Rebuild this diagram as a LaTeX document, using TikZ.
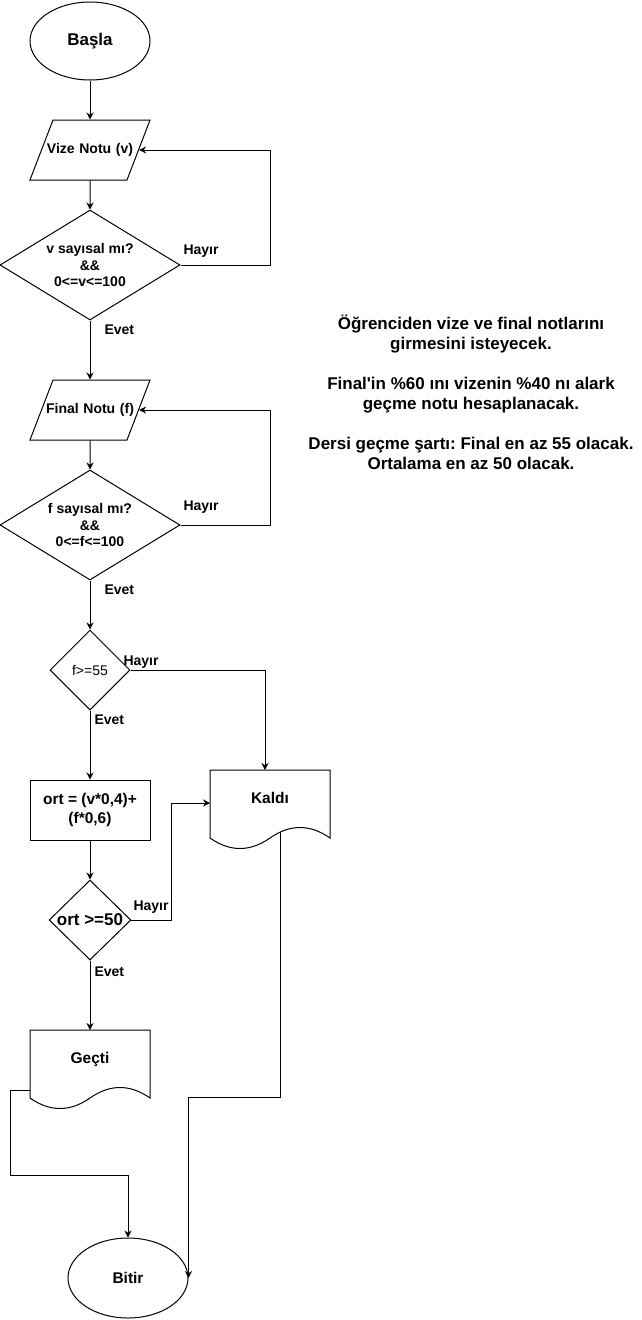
\documentclass[tikz,border=0pt]{standalone}
\usepackage{fontspec}
\setmainfont{Liberation Sans}[Ligatures=TeXOff]
\usetikzlibrary{shapes.geometric,arrows.meta}
\frenchspacing

\newcommand{\kucuk}{\bfseries\fontsize{14}{16.5}\selectfont}
\newcommand{\orta}{\bfseries\fontsize{15.5}{19}\selectfont}
\newcommand{\buyuk}{\bfseries\fontsize{17}{20}\selectfont}

% belge sekli: x merkez, ust kenar y
\newcommand{\belge}[2]{%
  \draw (#1-60,#2+68) -- (#1-60,#2) -- (#1+60,#2) -- (#1+60,#2+68)
    .. controls (#1+40,#2+54) and (#1+20,#2+54) .. (#1,#2+68)
    .. controls (#1-20,#2+82) and (#1-40,#2+82) .. cycle;
}

\tikzset{
  ok/.style={-{Stealth[length=7pt,width=7pt]}},
  bas/.style={ellipse, draw, minimum width=120pt, minimum height=78pt, inner sep=0pt, font=\buyuk},
  giris/.style={trapezium, trapezium left angle=69, trapezium right angle=111,
    draw, text width=74pt, align=center,
    text height=10pt, text depth=4pt, inner xsep=0pt, inner ysep=23pt, font=\kucuk},
  karar/.style={diamond, draw, align=center, inner sep=0pt},
  islem/.style={rectangle, draw, minimum width=120pt, minimum height=60pt, align=center, font=\orta},
  etiket/.style={anchor=west, inner sep=0pt, font=\kucuk}
}

\begin{document}
\begin{tikzpicture}[x=1pt,y=-1pt,line width=1pt]
\useasboundingbox (0,0) rectangle (641,1320);

\node[bas] (basla) at (90,41) {Başla};
\node[giris] (vize) at (90,150) {\makebox[74pt]{Vize Notu (v)}};
\node[karar, aspect=1.64, minimum width=180pt, minimum height=110pt, font=\kucuk] (vkontrol) at (90,265)
  {v sayısal mı?\\\&\&\\0<=v<=100};
\node[giris] (final) at (90,410) {\makebox[74pt]{Final Notu (f)}};
\node[karar, aspect=1.64, minimum width=180pt, minimum height=110pt, font=\kucuk] (fkontrol) at (90,525)
  {f sayısal mı?\\\&\&\\0<=f<=100};
\node[karar, minimum width=80pt, minimum height=80pt, font=\fontsize{14}{16.5}\selectfont] (f55) at (90,670) {f>=55};
\node[islem] (ort) at (90,810) {ort = (v*0,4)+\\(f*0,6)};
\node[karar, aspect=1.3, minimum width=80pt, minimum height=80pt, font=\buyuk] (ortk) at (90,920) {ort >=50};

\belge{270}{770}
\node[font=\orta] (kaldi) at (270,798) {Kaldı};
\coordinate (kaldiust) at (265,770);
\coordinate (kaldisol) at (210,803);
\coordinate (kaldialt) at (280,832);

\belge{90}{1030}
\node[font=\orta] (gecti) at (90,1059) {Geçti};
\coordinate (gectiust) at (90,1030);
\coordinate (gectisol) at (30,1090);

\node[bas, font=\orta, minimum height=80pt] (bitir) at (128,1278) {Bitir};

\node[etiket] (h1) at (183,251) {Hayır};
\node[etiket] (e1) at (104,330) {Evet};
\node[etiket] (h2) at (183,507) {Hayır};
\node[etiket] (e2) at (104,590) {Evet};
\node[etiket] (h3) at (123,662) {Hayır};
\node[etiket] (e3) at (94,720) {Evet};
\node[etiket] (h4) at (133,907) {Hayır};
\node[etiket] (e4) at (94,972) {Evet};

\node[font=\buyuk, align=center] (aciklama) at (471,392)
  {Öğrenciden vize ve final notlarını\\girmesini isteyecek.\\[20pt]
   Final'in \%60 ını vizenin \%40 nı alark\\geçme notu hesaplanacak.\\[20pt]
   Dersi geçme şartı: Final en az 55 olacak.\\Ortalama en az 50 olacak.};

\draw[ok] (basla) -- (vize);
\draw[ok] (vize) -- (vkontrol);
\draw[ok] (vkontrol.east) -- ++(90,0) |- (vize.east);
\draw[ok] (vkontrol) -- (final);
\draw[ok] (final) -- (fkontrol);
\draw[ok] (fkontrol.east) -- ++(90,0) |- (final.east);
\draw[ok] (fkontrol) -- (f55);
\draw[ok] (f55.east) -| (kaldiust);
\draw[ok] (f55) -- (ort);
\draw[ok] (ort) -- (ortk);
\draw[ok] (ortk.east) -- ++(40,0) |- (kaldisol);
\draw[ok] (ortk) -- (gectiust);
\draw[ok] (gectisol) -- ++(-20,0) -- ++(0,85) -| (bitir.north);
\draw[ok] (kaldialt) -- ++(0,265) -| (bitir.east);
\end{tikzpicture}
\end{document}
